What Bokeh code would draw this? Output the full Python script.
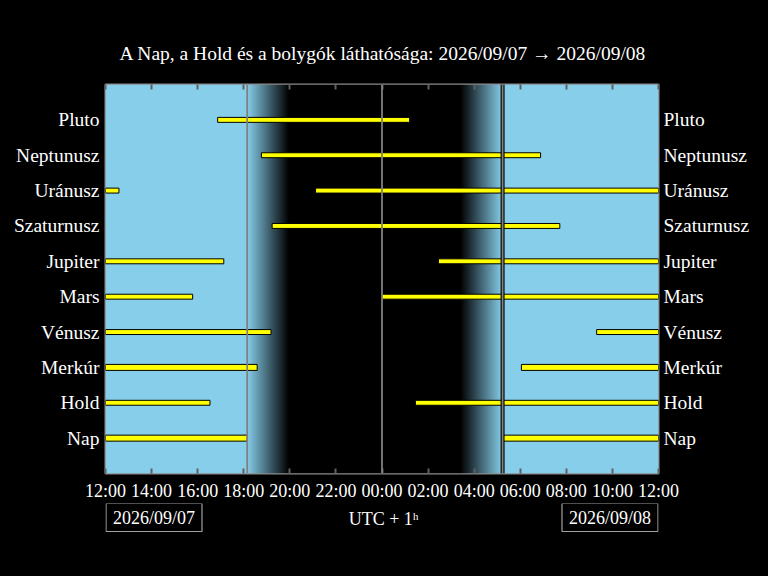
import numpy as np
from bokeh.plotting import figure
from bokeh.layouts import column
from bokeh.models import Range1d, LinearAxis, FixedTicker, Span, Label, Grid
from bokeh.embed import file_html
from bokeh.resources import INLINE

title_text = "A Nap, a Hold és a bolygók láthatósága: 2026/09/07 → 2026/09/08"
date_start = "2026/09/07"
date_end = "2026/09/08"
tz_text = "UTC + 1ʰ"

bodies = ["Nap", "Hold", "Merkúr", "Vénusz", "Mars", "Jupiter",
          "Szaturnusz", "Uránusz", "Neptunusz", "Pluto"]

seg_body = ["Nap", "Nap", "Hold", "Hold", "Merkúr", "Merkúr", "Vénusz", "Vénusz",
            "Mars", "Mars", "Jupiter", "Jupiter", "Szaturnusz", "Uránusz", "Uránusz",
            "Neptunusz", "Pluto"]
seg_start = ["12:00", "05:14", "12:00", "01:27", "12:00", "06:03", "12:00", "09:19",
             "12:00", "23:59", "12:00", "02:27", "19:14", "12:00", "21:07",
             "18:46", "16:52"]
seg_end = ["18:09", "12:00", "16:32", "12:00", "18:35", "12:00", "19:11", "12:00",
           "15:47", "12:00", "17:08", "12:00", "07:43", "12:35", "12:00",
           "06:53", "01:12"]

sunset = "18:09"
dusk_end = "19:58"
dawn_start = "03:24"
sunrise = "05:14"
midnight = "00:00"

tick_hours = [0, 2, 4, 6, 8, 10, 12, 14, 16, 18, 20, 22, 24]
tick_labels = ["12:00", "14:00", "16:00", "18:00", "20:00", "22:00", "00:00",
               "02:00", "04:00", "06:00", "08:00", "10:00", "12:00"]


def hrs(t):
    hh, mm = map(int, t.split(":"))
    return ((hh * 60 + mm) / 60.0 - 12.0) % 24.0


def hrs_end(t):
    v = hrs(t)
    return 24.0 if v == 0 else v


FONT = "Liberation Serif"
FS = "19.5px"
FS_TICK = "18px"
SKY = (135, 206, 235)
thick = {"Nap", "Merkúr"}
BLACK_BG = {"background-color": "black"}

W = 768
BL, BR = 105, 110
H0, H1, H2 = 81, 422, 73   # title strip, chart, bottom strip


def strip(height):
    f = figure(width=W, height=height, output_backend="svg", toolbar_location=None,
               x_range=Range1d(0, 24), y_range=Range1d(-height, 0),
               x_axis_location=None, y_axis_location=None,
               min_border_left=BL, min_border_right=BR, min_border_top=0,
               min_border_bottom=0, styles=BLACK_BG)
    f.background_fill_color = "black"
    f.border_fill_color = "black"
    f.outline_line_color = None
    return f


# title strip
r = strip(H0)
r.add_layout(Label(x=12.04, y=-53, text=title_text, text_align="center",
                   text_baseline="middle", text_color="white", text_font=FONT,
                   text_font_size=FS))

# main chart
p = figure(width=W, height=H1, output_backend="svg", toolbar_location=None,
           x_range=Range1d(0, 24), y_range=Range1d(0, 11),
           x_axis_location=None, y_axis_location=None,
           min_border_left=BL, min_border_right=BR, min_border_top=3,
           min_border_bottom=29, styles=BLACK_BG)
p.background_fill_color = "black"
p.border_fill_color = "black"
p.outline_line_color = "#8c8c8c"
p.outline_line_width = 2

# sky gradient
N = 1440
t = (np.arange(N) + 0.5) / 60.0
ss, de, ds, sr = hrs(sunset), hrs(dusk_end), hrs(dawn_start), hrs(sunrise)
b = np.ones(N)
ev = (t >= ss) & (t < de)
b[ev] = 1 - (t[ev] - ss) / (de - ss)
b[(t >= de) & (t < ds)] = 0
mo = (t >= ds) & (t < sr)
b[mo] = (t[mo] - ds) / (sr - ds)
img = np.zeros((1, N), dtype=np.uint32)
view = img.view(dtype=np.uint8).reshape((1, N, 4))
view[0, :, 0] = (SKY[0] * b).astype(np.uint8)
view[0, :, 1] = (SKY[1] * b).astype(np.uint8)
view[0, :, 2] = (SKY[2] * b).astype(np.uint8)
view[0, :, 3] = 255
p.image_rgba(image=[img], x=0, y=0, dw=24, dh=11)

# bars
row = {name: i + 1 for i, name in enumerate(bodies)}
left = [hrs(s) for s in seg_start]
right = [hrs_end(e) for e in seg_end]
half = [(0.085 if bname in thick else 0.07) for bname in seg_body]
bottom = [row[bn] - h for bn, h in zip(seg_body, half)]
top = [row[bn] + h for bn, h in zip(seg_body, half)]
p.quad(left=left, right=right, bottom=bottom, top=top,
       fill_color="#ffff00", line_color="black", line_width=1)

# vertical lines
p.add_layout(Span(location=hrs(sunrise), dimension="height", line_color="black", line_width=4))
for loc in (hrs(sunset), hrs(midnight), hrs(sunrise)):
    p.add_layout(Span(location=loc, dimension="height", line_color="#808080", line_width=1.8))


def time_axis(show_labels):
    ax = LinearAxis(ticker=FixedTicker(ticks=tick_hours))
    ax.major_label_overrides = {h: lab for h, lab in zip(tick_hours, tick_labels)}
    ax.axis_line_color = None
    ax.major_tick_in = 5
    ax.major_tick_out = 0
    ax.major_tick_line_color = "#606060"
    ax.major_tick_line_width = 2
    ax.minor_tick_line_color = None
    ax.major_label_text_font = FONT
    if show_labels:
        ax.major_label_text_color = "white"
        ax.major_label_text_font_size = FS_TICK
        ax.major_label_standoff = 7
    else:
        ax.major_label_text_color = None
        ax.major_label_text_font_size = "1px"
        ax.major_label_standoff = 0
    return ax


p.add_layout(time_axis(True), "below")
p.add_layout(time_axis(False), "above")

for side, so in (("left", 6), ("right", 5)):
    ax = LinearAxis(ticker=FixedTicker(ticks=list(range(1, len(bodies) + 1))))
    ax.major_label_overrides = {i + 1: name for i, name in enumerate(bodies)}
    ax.axis_line_color = None
    ax.major_tick_line_color = None
    ax.major_tick_in = 0
    ax.major_tick_out = 0
    ax.minor_tick_line_color = None
    ax.major_label_text_color = "white"
    ax.major_label_text_font = FONT
    ax.major_label_text_font_size = FS
    ax.major_label_standoff = so
    p.add_layout(ax, side)

# bottom strip with the date boxes and the time zone
q = strip(H2)
box_x = [2.105, 21.895]
box_text = [date_start, date_end]
q.rect(x=box_x, y=[-14, -14], width=96, height=28, width_units="screen",
       height_units="screen", fill_color=None, line_color="#a0a0a0", line_width=1.2)
for xx, txt in zip(box_x, box_text):
    q.add_layout(Label(x=xx, y=-14, text=txt, text_align="center",
                       text_baseline="middle", text_color="white", text_font=FONT,
                       text_font_size=FS_TICK))
q.add_layout(Label(x=12.07, y=-15, text=tz_text, text_align="center",
                   text_baseline="middle", text_color="white", text_font=FONT,
                   text_font_size=FS_TICK))

for fig in (p, q, r):
    for g in fig.select(type=Grid):
        g.visible = False
        g.grid_line_color = None

layout = column(r, p, q, spacing=0, styles=BLACK_BG)
open("out.html", "w").write(file_html(layout, INLINE))
